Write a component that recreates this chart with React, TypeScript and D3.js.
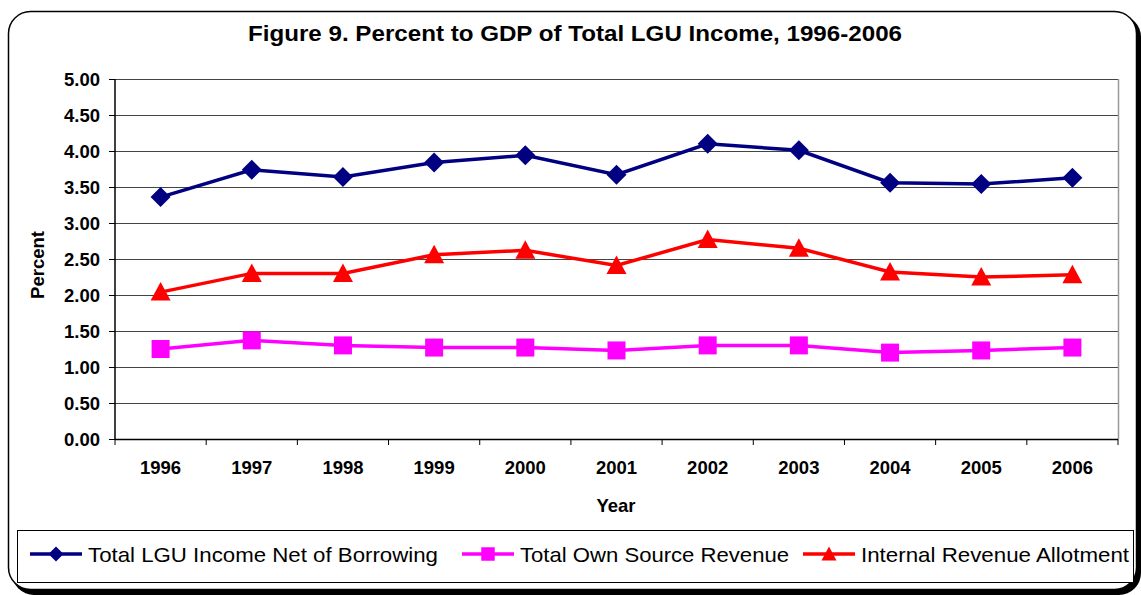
import React from "react";
import { select, scaleBand, scaleLinear, line, range } from "d3";

const years = ["1996", "1997", "1998", "1999", "2000", "2001", "2002", "2003", "2004", "2005", "2006"];
const lguIncome = [3.36, 3.74, 3.64, 3.84, 3.94, 3.67, 4.1, 4.01, 3.56, 3.54, 3.63];
const ownSource = [1.25, 1.37, 1.3, 1.27, 1.27, 1.23, 1.3, 1.3, 1.2, 1.23, 1.27];
const ira = [2.04, 2.3, 2.3, 2.56, 2.62, 2.41, 2.77, 2.65, 2.32, 2.25, 2.28];
const yTicks = [0, 0.5, 1, 1.5, 2, 2.5, 3, 3.5, 4, 4.5, 5];
const seriesNames = ["Total LGU Income Net of Borrowing", "Total Own Source Revenue", "Internal Revenue Allotment"];

const W = 1141;
const H = 595;
const FONT = "'Liberation Sans', Arial, sans-serif";

function markerPath(kind: string, s: number) {
  if (kind === "diamond") return `M0,${-s}L${s},0L0,${s}L${-s},0Z`;
  if (kind === "square") return `M${-s * 0.9},${-s * 0.9}H${s * 0.9}V${s * 0.9}H${-s * 0.9}Z`;
  return `M0,${-s}L${s},${s * 0.85}L${-s},${s * 0.85}Z`;
}

function Chart() {
  const svgRef = React.useRef<SVGSVGElement>(null);

  React.useEffect(() => {
    const svg = select(svgRef.current);
    svg.selectAll("*").remove();

    const series = [
      { name: seriesNames[0], values: lguIncome, color: "#000080", marker: "diamond" },
      { name: seriesNames[1], values: ownSource, color: "#FF00FF", marker: "square" },
      { name: seriesNames[2], values: ira, color: "#FF0000", marker: "triangle" },
    ];

    // frame with shadow
    svg.append("rect").attr("x", 12).attr("y", 15).attr("width", 1129).attr("height", 580)
      .attr("rx", 22).attr("fill", "#000");
    svg.append("rect").attr("x", 8.5).attr("y", 11.5).attr("width", 1128).attr("height", 578)
      .attr("rx", 22).attr("fill", "#fff").attr("stroke", "#000").attr("stroke-width", 1.5);

    // title
    svg.append("text").attr("x", 575).attr("y", 41).attr("text-anchor", "middle")
      .attr("font-family", FONT).attr("font-weight", "bold").attr("font-size", 21.5)
      .attr("textLength", 654).attr("lengthAdjust", "spacingAndGlyphs")
      .text("Figure 9. Percent to GDP of Total LGU Income, 1996-2006");

    const left = 115, right = 1118, top = 79, bottom = 439;
    const x = scaleBand<string>().domain(years).range([left, right]);
    const y = scaleLinear().domain([0, 5]).range([bottom, top]);
    const cx = (i: number) => (x(years[i]) as number) + x.bandwidth() / 2;

    // gridlines
    svg.append("g").selectAll("line").data(yTicks.filter((t) => t > 0)).join("line")
      .attr("x1", left).attr("x2", right)
      .attr("y1", (d) => Math.round(y(d)) + 0.5).attr("y2", (d) => Math.round(y(d)) + 0.5)
      .attr("stroke", "#444").attr("stroke-width", 1);
    // right border
    svg.append("line").attr("x1", right + 0.5).attr("x2", right + 0.5).attr("y1", top).attr("y2", bottom)
      .attr("stroke", "#999").attr("stroke-width", 1.5);

    // y axis
    svg.append("line").attr("x1", left).attr("x2", left).attr("y1", top).attr("y2", bottom + 1)
      .attr("stroke", "#000").attr("stroke-width", 1.5);
    svg.append("g").selectAll("line").data(yTicks).join("line")
      .attr("x1", left - 6).attr("x2", left)
      .attr("y1", (d) => Math.round(y(d)) + 0.5).attr("y2", (d) => Math.round(y(d)) + 0.5)
      .attr("stroke", "#000").attr("stroke-width", 1);
    svg.append("g").selectAll("text").data(yTicks).join("text")
      .attr("x", 100).attr("y", (d) => y(d) + 6.5).attr("text-anchor", "end")
      .attr("font-family", FONT).attr("font-weight", "bold").attr("font-size", 18.5)
      .text((d) => d.toFixed(2));

    // x axis
    svg.append("line").attr("x1", left).attr("x2", right).attr("y1", bottom + 0.5).attr("y2", bottom + 0.5)
      .attr("stroke", "#000").attr("stroke-width", 1.5);
    svg.append("g").selectAll("line").data(range(years.length + 1)).join("line")
      .attr("x1", (i) => left + i * x.step()).attr("x2", (i) => left + i * x.step())
      .attr("y1", bottom).attr("y2", bottom + 6)
      .attr("stroke", "#000").attr("stroke-width", 1);
    svg.append("g").selectAll("text").data(years).join("text")
      .attr("x", (d, i) => cx(i)).attr("y", 474).attr("text-anchor", "middle")
      .attr("font-family", FONT).attr("font-weight", "bold").attr("font-size", 18.5)
      .text((d) => d);

    svg.append("text").attr("x", 616).attr("y", 512).attr("text-anchor", "middle")
      .attr("font-family", FONT).attr("font-weight", "bold").attr("font-size", 18.5).text("Year");
    svg.append("text").attr("transform", "translate(44,265) rotate(-90)").attr("text-anchor", "middle")
      .attr("font-family", FONT).attr("font-weight", "bold").attr("font-size", 18.5).text("Percent");

    // lines + markers
    const lineGen = line<number>().x((d, i) => cx(i)).y((d) => y(d));
    series.forEach((s) => {
      svg.append("path").attr("d", lineGen(s.values)).attr("fill", "none")
        .attr("stroke", s.color).attr("stroke-width", 3.5);
      svg.append("g").selectAll("path").data(s.values).join("path")
        .attr("transform", (d, i) => `translate(${cx(i)},${y(d)})`)
        .attr("d", markerPath(s.marker, 10)).attr("fill", s.color);
    });

    // legend
    svg.append("rect").attr("x", 17.5).attr("y", 530.5).attr("width", 1116).attr("height", 52)
      .attr("fill", "#fff").attr("stroke", "#000").attr("stroke-width", 1);
    const legendX = [30, 462, 803];
    const legendLen = [350, 269, 268];
    series.forEach((s, i) => {
      const g = svg.append("g").attr("transform", `translate(${legendX[i]},554)`);
      g.append("line").attr("x1", 0).attr("x2", 52).attr("stroke", s.color).attr("stroke-width", 3.5);
      g.append("path").attr("transform", "translate(26,0)").attr("d", markerPath(s.marker, 7.5)).attr("fill", s.color);
      g.append("text").attr("x", 58).attr("y", 7.5).attr("font-family", FONT).attr("font-size", 21)
        .attr("textLength", legendLen[i]).attr("lengthAdjust", "spacingAndGlyphs")
        .text(s.name);
    });
  }, []);

  return <svg ref={svgRef} width={W} height={H} style={{ position: "absolute", left: 0, top: 0 }} />;
}

export default function App() {
  return <Chart />;
}
